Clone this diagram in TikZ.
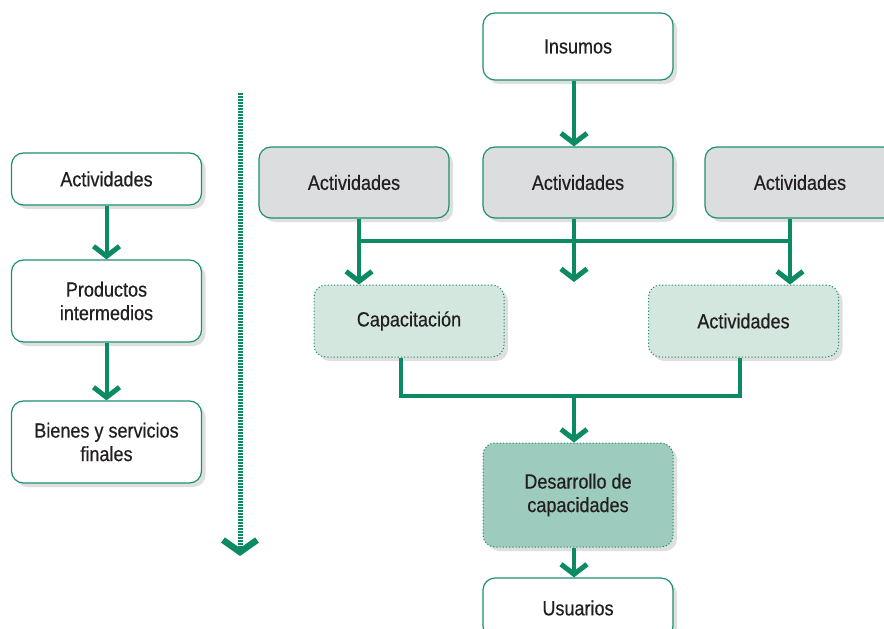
\documentclass[tikz,border=0pt]{standalone}
\usepackage{fontspec}
\setmainfont{Liberation Sans}[FakeStretch=0.88,FakeBold=0.5]
\usepackage{xcolor}
\usetikzlibrary{arrows.meta,shadows}

\definecolor{verde}{HTML}{0B8A63}
\definecolor{borde}{HTML}{1E9070}
\definecolor{gris}{HTML}{DCDDDF}
\definecolor{verdeclaro}{HTML}{D4E7DF}
\definecolor{verdemedio}{HTML}{9DCBBD}
\definecolor{texto}{HTML}{231F20}

\begin{document}
\begin{tikzpicture}[x=1pt,y=-1pt]
		\tikzstyle{every node}+=[text=texto,font=\fontsize{20.5}{23.5}\selectfont,align=center]
		\tikzstyle{caja}=[draw=borde,line width=1.2pt,rounded corners=12pt,minimum width=190pt,minimum height=71pt,
			drop shadow={opacity=0.25,shadow xshift=4pt,shadow yshift=-4pt}]
		\tikzstyle{blanca}=[caja,fill=white]
		\tikzstyle{grisbox}=[caja,fill=gris]
		\tikzstyle{punteada}=[caja,dotted,line width=1pt,fill=verdeclaro]
		\tikzstyle{flujo}=[draw=verde,line width=4pt,-{Straight Barb[length=10pt,width=26pt,line width=5pt]}]
		\tikzstyle{linea}=[draw=verde,line width=4pt]
		\useasboundingbox (0,0) rectangle (884,629);
		\begin{scope}
		\clip (0,0) rectangle (884,629);
		% columna izquierda
		\node [blanca,minimum height=52pt] (ia) at (106.5,179) {Actividades};
		\node [blanca,minimum height=82pt] (ip) at (106.5,301) {Productos\\intermedios};
		\node [blanca,minimum height=82pt] (ib) at (106.5,442) {Bienes y servicios\\finales};
		\draw [flujo] (ia.south) -- (ip.north);
		\draw [flujo] (ip.south) -- (ib.north);
		% flecha punteada
		\coordinate (ptop) at (240,93);
		\coordinate (pbot) at (240,556);
		\draw [draw=verde,line width=5pt,dash pattern=on 1.6pt off 1.4pt,
			-{Straight Barb[length=12pt,width=34pt,line width=6.5pt]}] (ptop) -- (pbot);
		% arriba
		\node [blanca,minimum height=67pt] (ins) at (578,46.5) {Insumos};
		\node [grisbox] (g1) at (354,182.5) {Actividades};
		\node [grisbox] (g2) at (578,182.5) {Actividades};
		\node [grisbox] (g3) at (800,182.5) {Actividades};
		\draw [flujo] ([xshift=-4pt]ins.south) -- ([xshift=-4pt]g2.north);
		% barra horizontal
		\coordinate (barra) at (574,241);
		\coordinate (medio) at (574,282);
		\node [punteada,minimum height=72pt] (cap) at (409,321) {Capacitación};
		\node [punteada,minimum height=72pt] (act) at (743.5,321) {Actividades};
		\draw [linea] ([xshift=5pt]g1.south) -- ([xshift=5pt]g1.south |- barra);
		\draw [linea] ([xshift=-10pt]g3.south) -- ([xshift=-10pt]g3.south |- barra);
		\draw [linea] ([xshift=3pt]g1.south |- barra) -- ([xshift=-8pt]g3.south |- barra);
		\draw [flujo] ([xshift=-4pt]g2.south) -- (medio);
		\draw [flujo] ([xshift=5pt]g1.south |- barra) -- ([xshift=5pt]g1.south |- cap.north);
		\draw [flujo] ([xshift=-10pt]g3.south |- barra) -- ([xshift=-10pt]g3.south |- act.north);
		% abajo
		\node [punteada,fill=verdemedio,minimum height=104pt] (des) at (578,495) {Desarrollo de\\capacidades};
		\node [blanca,minimum height=60pt] (usu) at (578,608) {Usuarios};
		\coordinate (union) at (574,396);
		\draw [linea] ([xshift=-8pt]cap.south) |- (union) -| ([xshift=-3.5pt]act.south);
		\draw [flujo] (union) -- ([xshift=-4pt]des.north);
		\draw [flujo] ([xshift=-4pt]des.south) -- ([xshift=-4pt]usu.north);
		\end{scope}
	\end{tikzpicture}
\end{document}
